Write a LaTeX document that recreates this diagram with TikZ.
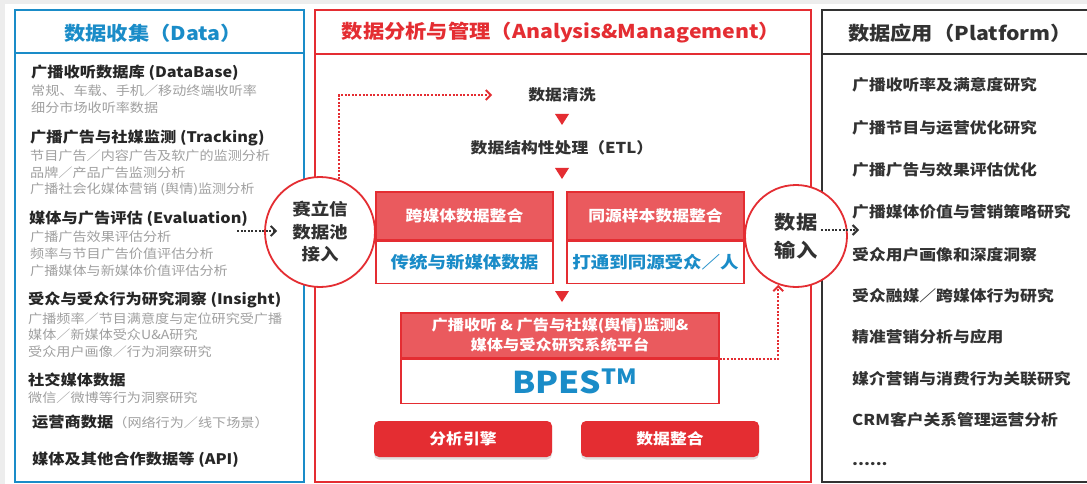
\documentclass[tikz,border=0pt]{standalone}
\usepackage{fontspec}
\setmainfont{Noto Sans CJK SC}[FakeStretch=1.12]
\definecolor{sxblue}{RGB}{26,140,200}
\definecolor{sxred}{RGB}{228,45,50}
\definecolor{sxpink}{RGB}{234,90,94}
\definecolor{sxgrey}{RGB}{160,160,160}
\definecolor{sxdark}{RGB}{50,50,50}
\usetikzlibrary{positioning}
\usetikzlibrary{arrows.meta}
\usetikzlibrary{shadows}
\tikzset{every node/.style={align=center, inner sep=0pt},
         panel/.style={line width=1.6pt},   % frames of the three columns
         colhead/.style={font=\bfseries\fontsize{19}{22}\selectfont},
         srctitle/.style={anchor=west, align=left, text=black!85,
           font=\bfseries\fontsize{14.5}{17}\selectfont},
         srcsub/.style={anchor=west, align=left, text=sxgrey,
           font=\fontsize{12.6}{16.8}\selectfont},
         appitem/.style={anchor=west, text=sxdark,
           font=\bfseries\fontsize{15}{18}\selectfont},
         stage/.style={text=sxdark, font=\bfseries\fontsize{15}{18}\selectfont},
         boxhead/.style={draw=sxred, line width=1.5pt, fill=sxpink, text=white,
           font=\bfseries\fontsize{15}{18}\selectfont},
         boxbody/.style={draw=sxred, line width=1.5pt, fill=white, text=sxblue,
           font=\bfseries\fontsize{16.5}{19}\selectfont},
         engine/.style={fill=sxred, rounded corners=5pt, minimum width=178pt,
           minimum height=36pt, text=white, font=\bfseries\fontsize{15}{18}\selectfont,
           drop shadow={opacity=0.25, shadow xshift=0pt, shadow yshift=-2.5pt}},
         hub/.style={circle, draw=sxred, line width=1.8pt, fill=white, text=sxdark},
         flow/.style={draw=sxred, line width=2pt, dash pattern=on 2pt off 1.6pt,
           -{Straight Barb[length=5pt,width=10pt]}},
         feed/.style={flow, draw=sxdark}}
\newcommand\downtri[1]{\fill[sxred] (#1) ++(-7,-5) -- ++(14,0) -- ++(-7,11) -- cycle;}

\begin{document}
\begin{tikzpicture}[x=1pt, y=-1pt]
  \useasboundingbox (0,0) rectangle (1087,484);
  \fill[black!7] (0,0) rectangle (1087,484);
  \fill[white] (5,4) rectangle (1087,484);

  % the three columns
  \draw[panel, sxblue] (15,10) rectangle (304,482);
  \draw[panel, sxblue] (15,53) -- (304,53);
  \draw[panel, sxred] (315,10) rectangle (811,482);
  \draw[panel, sxred] (315,54) -- (811,54);
  \draw[panel, sxdark] (1090,10) -- (822,10) -- (822,482) -- (1090,482);
  \draw[panel, sxdark] (822,54) -- (1090,54);

  \node [colhead, text=sxblue] (collect) at (153,33) {数据收集（Data）};
  \node [colhead, text=sxred] (manage) at (561,33) {数据分析与管理（Analysis\&Management）};
  \node [colhead, text=sxdark] (platform) at (960,33) {数据应用（Platform）};

  % data sources
  \node [srctitle] (database) at (31,73) {广播收听数据库 (DataBase)};
  \node [srcsub] (databasesub) at (31,99) {常规、车载、手机／移动终端收听率\\细分市场收听率数据};
  \node [srctitle] (tracking) at (30,138) {广播广告与社媒监测 (Tracking)};
  \node [srcsub] (trackingsub) at (30,173) {节目广告／内容广告及软广的监测分析\\品牌／产品广告监测分析\\广播社会化媒体营销 (舆情)监测分析};
  \node [srctitle] (evaluation) at (29,219) {媒体与广告评估 (Evaluation)};
  \node [srcsub] (evaluationsub) at (30,253.5) {广播广告效果评估分析\\频率与节目广告价值评估分析\\广播媒体与新媒体价值评估分析};
  \node [srctitle] (insight) at (28,300) {受众与受众行为研究洞察 (Insight)};
  \node [srcsub] (insightsub) at (28,335) {广播频率／节目满意度与定位研究受广播\\媒体／新媒体受众U\&A研究\\受众用户画像／行为洞察研究};
  \node [srctitle] (social) at (28,380) {社交媒体数据};
  \node [srcsub] (socialsub) at (28,398) {微信／微博等行为洞察研究};
  \node [srctitle] (carrier) at (32,422) {运营商数据{\mdseries\fontsize{12.6}{15}\selectfont\color{sxgrey}（网络行为／线下场景）}};
  \node [srctitle] (api) at (32,460) {媒体及其他合作数据等 (API)};

  % processing chain
  \node [stage] (clean) at (562,95) {数据清洗};
  \downtri{562,119}
  \node [stage] (etl) at (562,148) {数据结构性处理（ETL）};
  \downtri{562,173}

  \node [boxhead, minimum width=177pt, minimum height=48pt] (crosshd) at (464.5,216) {跨媒体数据整合};
  \node [boxbody, minimum width=177pt, minimum height=42pt, below=0pt of crosshd] (cross) {传统与新媒体数据};
  \node [boxhead, minimum width=177pt, minimum height=48pt] (samehd) at (655.5,216) {同源样本数据整合};
  \node [boxbody, minimum width=177pt, minimum height=42pt, below=0pt of samehd] (same) {打通到同源受众／人};
  \downtri{562,296}

  \node [boxhead, minimum width=318pt, minimum height=45pt, font=\bfseries\fontsize{14.5}{20}\selectfont] (bpeshd) at (560,335.5)
    {广播收听 \& 广告与社媒(舆情)监测\&\\媒体与受众研究系统平台};
  \node [boxbody, minimum width=318pt, minimum height=44pt, below=0pt of bpeshd, font=\bfseries\fontsize{30}{32}\selectfont] (bpes)
    {\hspace*{30pt}BPES\textsuperscript{TM}};

  \node [engine] (analysis) at (463,439) {分析引擎};
  \node [engine] (merge) at (670,439) {数据整合};

  % data pool in, data out
  \node [hub, minimum size=110pt, font=\bfseries\fontsize{16.5}{22.5}\selectfont] (pool) at (320,232) {赛立信\\数据池\\接入};
  \node [hub, minimum size=102pt, font=\bfseries\fontsize{19}{28}\selectfont] (input) at (796,236) {数据\\输入};

  % applications
  \node [appitem] (app1) at (852,85) {广播收听率及满意度研究};
  \node [appitem] (app2) at (852,128) {广播节目与运营优化研究};
  \node [appitem] (app3) at (852,170) {广播广告与效果评估优化};
  \node [appitem] (app4) at (852,212) {广播媒体价值与营销策略研究};
  \node [appitem] (app5) at (852,255) {受众用户画像和深度洞察};
  \node [appitem] (app6) at (852,296) {受众融媒／跨媒体行为研究};
  \node [appitem] (app7) at (852,337) {精准营销分析与应用};
  \node [appitem] (app8) at (852,379) {媒介营销与消费行为关联研究};
  \node [appitem] (app9) at (852,420) {CRM客户关系管理运营分析};
  \node [appitem] (app10) at (852,464) {......};

  % dotted connectors
  \coordinate (feedin) at (237,231);
  \coordinate (feedout) at (859,230);
  \draw [feed] (feedin) -- ([xshift=13pt, yshift=1pt]pool.west);
  \draw [flow, shorten >=36pt] (pool.70) |- (clean.west);
  \draw [flow] (bpeshd.south east) -| (input.250);
  \draw [feed] ([xshift=-27pt, yshift=6pt]input.east) -- (feedout);
\end{tikzpicture}
\end{document}
